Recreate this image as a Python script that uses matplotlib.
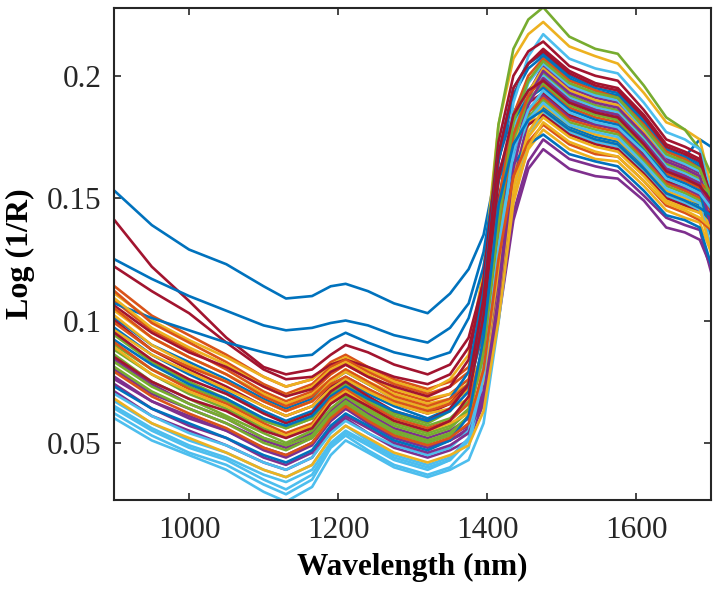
import numpy as np
import matplotlib
matplotlib.use("Agg")
import matplotlib.pyplot as plt

wavelength = [900, 950, 1000, 1050, 1100, 1130, 1165, 1190, 1210, 1240, 1275, 1320, 1350,
              1375, 1395, 1415, 1435, 1455, 1475, 1510, 1545, 1575, 1610, 1640, 1665, 1685, 1700]

# spectra, log(1/R) in units of 1e-3, in plotting order
s00 = [153, 139, 129, 123, 114, 109, 110, 114, 115, 112, 107, 103, 111, 121, 135, 166, 185, 194, 197, 190, 185, 182, 173, 165, 167, 174, 171]
s01 = [114, 102, 94, 86, 77, 73, 76, 83, 86, 81, 76, 72, 75, 81, 104, 149, 184, 198, 205, 196, 192, 190, 178, 167, 164, 161, 148]
s02 = [111, 100, 92, 85, 77, 73, 76, 82, 85, 80, 75, 71, 76, 86, 121, 180, 207, 217, 222, 212, 208, 205, 193, 181, 178, 174, 155]
s03 = [76, 67, 61, 55, 48, 45, 50, 59, 64, 59, 53, 49, 51, 55, 67, 100, 141, 162, 170, 162, 159, 158, 149, 138, 136, 133, 122]
s04 = [94, 83, 75, 68, 60, 56, 60, 70, 74, 68, 62, 58, 63, 75, 114, 180, 211, 223, 228, 216, 211, 209, 196, 183, 178, 170, 160]
s05 = [60, 51, 45, 39, 30, 26, 32, 45, 51, 46, 40, 36, 39, 43, 58, 99, 149, 175, 185, 177, 173, 171, 161, 151, 148, 145, 135]
s06 = [141, 122, 108, 93, 81, 78, 80, 86, 90, 87, 82, 78, 82, 93, 116, 165, 192, 205, 211, 202, 197, 195, 184, 172, 169, 166, 148]
s07 = [125, 117, 110, 104, 98, 96, 97, 99, 100, 98, 94, 91, 97, 107, 128, 165, 192, 203, 208, 199, 194, 192, 181, 170, 166, 163, 150]
s08 = [108, 96, 88, 80, 71, 67, 71, 78, 82, 77, 71, 67, 70, 76, 99, 144, 179, 193, 200, 191, 187, 185, 174, 163, 160, 157, 146]
s09 = [104, 93, 85, 78, 70, 66, 70, 76, 80, 75, 70, 66, 68, 72, 83, 113, 151, 170, 178, 170, 166, 165, 155, 145, 142, 140, 128]
s10 = [84, 74, 66, 60, 52, 49, 54, 63, 68, 62, 56, 52, 55, 60, 75, 116, 168, 193, 204, 195, 191, 189, 177, 166, 163, 160, 143]
s11 = [90, 80, 73, 67, 59, 56, 60, 69, 73, 67, 61, 57, 60, 67, 90, 136, 171, 186, 193, 184, 180, 179, 168, 157, 154, 152, 141]
s12 = [64, 55, 48, 43, 35, 31, 37, 49, 54, 49, 43, 39, 43, 51, 82, 142, 189, 208, 217, 207, 203, 201, 189, 177, 174, 170, 152]
s13 = [122, 112, 103, 91, 80, 76, 77, 82, 84, 81, 77, 74, 78, 89, 112, 160, 180, 189, 193, 184, 180, 179, 168, 157, 154, 152, 143]
s14 = [107, 101, 96, 91, 87, 85, 86, 92, 95, 91, 87, 84, 87, 101, 122, 157, 176, 184, 187, 179, 175, 173, 163, 152, 150, 147, 142]
s15 = [112, 99, 91, 83, 74, 70, 74, 81, 84, 79, 74, 70, 73, 79, 100, 143, 176, 190, 196, 187, 183, 181, 171, 160, 157, 154, 147]
s16 = [109, 97, 89, 82, 73, 69, 73, 80, 83, 78, 72, 68, 70, 74, 86, 118, 159, 180, 188, 180, 176, 174, 164, 153, 150, 148, 145]
s17 = [71, 61, 55, 49, 42, 39, 44, 55, 60, 54, 48, 44, 47, 51, 66, 106, 156, 182, 192, 183, 180, 178, 167, 156, 154, 151, 140]
s18 = [88, 78, 70, 64, 56, 53, 57, 66, 70, 64, 58, 54, 57, 64, 89, 139, 177, 194, 201, 192, 188, 186, 175, 164, 161, 158, 153]
s19 = [67, 58, 51, 46, 39, 36, 41, 52, 57, 51, 45, 41, 44, 52, 80, 136, 179, 197, 205, 196, 192, 190, 178, 167, 164, 161, 148]
s20 = [106, 95, 87, 81, 73, 69, 72, 79, 82, 77, 73, 69, 73, 84, 117, 173, 200, 210, 214, 204, 200, 198, 186, 174, 171, 168, 148]
s21 = [101, 90, 83, 76, 68, 64, 68, 75, 79, 74, 68, 64, 68, 79, 112, 168, 195, 205, 209, 200, 195, 193, 182, 170, 167, 164, 146]
s22 = [105, 93, 85, 78, 69, 65, 69, 76, 80, 75, 69, 65, 68, 74, 95, 138, 171, 185, 191, 182, 179, 177, 166, 156, 153, 150, 145]
s23 = [102, 90, 82, 75, 67, 63, 67, 75, 79, 74, 68, 64, 67, 71, 85, 122, 170, 193, 203, 194, 190, 188, 177, 165, 162, 159, 152]
s24 = [80, 70, 64, 58, 51, 48, 52, 62, 66, 61, 55, 51, 53, 57, 69, 103, 144, 165, 174, 166, 163, 161, 151, 142, 139, 137, 120]
s25 = [86, 75, 68, 61, 54, 50, 55, 64, 69, 63, 57, 53, 56, 63, 86, 132, 168, 183, 190, 181, 178, 176, 165, 155, 152, 149, 137]
s26 = [62, 53, 46, 41, 33, 29, 35, 48, 53, 47, 41, 37, 40, 48, 76, 132, 174, 192, 200, 191, 187, 185, 174, 163, 160, 157, 154]
s27 = [100, 88, 80, 73, 65, 61, 65, 73, 77, 72, 66, 62, 66, 74, 102, 150, 172, 180, 184, 176, 172, 170, 160, 150, 147, 144, 142]
s28 = [97, 86, 78, 71, 63, 59, 63, 72, 76, 70, 65, 60, 64, 74, 105, 157, 182, 191, 195, 186, 182, 180, 170, 159, 156, 153, 135]
s29 = [99, 88, 81, 75, 67, 63, 67, 74, 77, 72, 67, 63, 66, 73, 98, 147, 184, 200, 207, 198, 194, 191, 180, 169, 166, 162, 151]
s30 = [96, 86, 79, 72, 65, 61, 65, 72, 76, 71, 66, 62, 64, 68, 80, 113, 154, 175, 183, 175, 171, 169, 159, 149, 146, 144, 139]
s31 = [77, 67, 60, 55, 47, 44, 49, 59, 64, 58, 52, 48, 51, 56, 71, 113, 165, 191, 202, 193, 189, 187, 176, 165, 162, 159, 145]
s32 = [83, 73, 66, 60, 52, 49, 53, 62, 67, 61, 55, 51, 54, 61, 86, 136, 174, 190, 197, 188, 184, 182, 171, 161, 158, 155, 152]
s33 = [70, 61, 54, 49, 42, 39, 44, 54, 59, 54, 49, 45, 48, 55, 80, 129, 166, 182, 189, 180, 177, 175, 164, 154, 151, 148, 130]
s34 = [95, 84, 76, 70, 62, 58, 62, 71, 75, 69, 63, 59, 64, 74, 109, 168, 195, 205, 210, 201, 196, 194, 183, 171, 168, 165, 151]
s35 = [92, 82, 74, 68, 60, 57, 61, 69, 73, 68, 63, 59, 63, 71, 98, 143, 164, 172, 176, 168, 165, 163, 153, 143, 141, 138, 123]
s36 = [91, 80, 72, 66, 58, 54, 58, 68, 72, 66, 60, 56, 59, 66, 90, 139, 176, 192, 199, 190, 186, 184, 173, 162, 159, 156, 153]
s37 = [89, 78, 71, 65, 57, 53, 57, 67, 71, 65, 59, 55, 58, 62, 75, 110, 155, 177, 186, 178, 174, 172, 162, 152, 149, 146, 128]
s38 = [74, 64, 57, 52, 44, 41, 46, 56, 61, 56, 50, 46, 49, 54, 69, 110, 162, 188, 199, 190, 186, 184, 173, 162, 159, 156, 139]
s39 = [81, 71, 64, 58, 50, 47, 52, 61, 66, 60, 54, 50, 53, 61, 87, 140, 181, 198, 206, 197, 193, 191, 179, 168, 165, 162, 150]
s40 = [65, 56, 49, 44, 37, 34, 39, 50, 55, 50, 44, 40, 43, 51, 77, 129, 169, 186, 194, 185, 181, 179, 169, 158, 155, 152, 146]
s41 = [85, 75, 68, 63, 55, 52, 56, 66, 70, 65, 59, 55, 59, 69, 102, 158, 184, 194, 198, 189, 185, 183, 172, 161, 158, 155, 149]
s42 = [73, 64, 58, 52, 45, 42, 47, 57, 62, 57, 51, 47, 51, 61, 93, 147, 172, 182, 186, 178, 174, 172, 162, 152, 149, 146, 143]
s43 = [79, 69, 62, 56, 48, 45, 50, 60, 65, 59, 53, 49, 52, 58, 80, 125, 159, 173, 180, 172, 168, 167, 157, 147, 144, 141, 137]
s44 = [68, 58, 52, 46, 39, 36, 41, 52, 57, 52, 46, 42, 45, 49, 63, 100, 148, 171, 181, 173, 169, 167, 157, 148, 145, 142, 138]

spectra = [s00, s01, s02, s03, s04, s05, s06, s07, s08, s09, s10, s11, s12, s13, s14,
           s15, s16, s17, s18, s19, s20, s21, s22, s23, s24, s25, s26, s27, s28, s29,
           s30, s31, s32, s33, s34, s35, s36, s37, s38, s39, s40, s41, s42, s43, s44]

xticks = [1000, 1200, 1400, 1600]
yticks = [0.05, 0.1, 0.15, 0.2]
ytick_labels = ["0.05", "0.1", "0.15", "0.2"]

# matlab default line colours
matlab_colors = ["#0072BD", "#D95319", "#EDB120", "#7E2F8E", "#77AC30", "#4DBEEE", "#A2142F"]

plt.rcParams["font.family"] = ["Liberation Serif", "DejaVu Serif"]
plt.rcParams["axes.prop_cycle"] = plt.cycler(color=matlab_colors)

fig = plt.figure(figsize=(7.21, 5.94), dpi=100)
ax = fig.add_axes([0.1588, 0.158, 0.8273, 0.8285])

for s in spectra:
    ax.plot(wavelength, np.array(s) / 1000.0, lw=1.9)

ax.set_xlim(900, 1700)
ax.set_ylim(0.0266, 0.2277)
ax.set_xticks(xticks)
ax.set_xticklabels([str(t) for t in xticks])
ax.set_yticks(yticks)
ax.set_yticklabels(ytick_labels)

ax.tick_params(direction="in", length=5, width=1.2, labelsize=22.5, colors="#262626",
               top=True, right=True)
ax.tick_params(axis="x", pad=11.5)
ax.tick_params(axis="y", pad=9.5)
for sp in ax.spines.values():
    sp.set_linewidth(1.5)
    sp.set_color("#262626")

ax.set_xlabel("Wavelength (nm)", fontsize=22.5, fontweight="bold", va="baseline")
ax.xaxis.set_label_coords(0.5, -0.152)
ax.set_ylabel("Log (1/R)", fontsize=23, fontweight="bold", va="center")
ax.yaxis.set_label_coords(-0.158, 0.5)

fig.savefig("out.png", dpi=100)
